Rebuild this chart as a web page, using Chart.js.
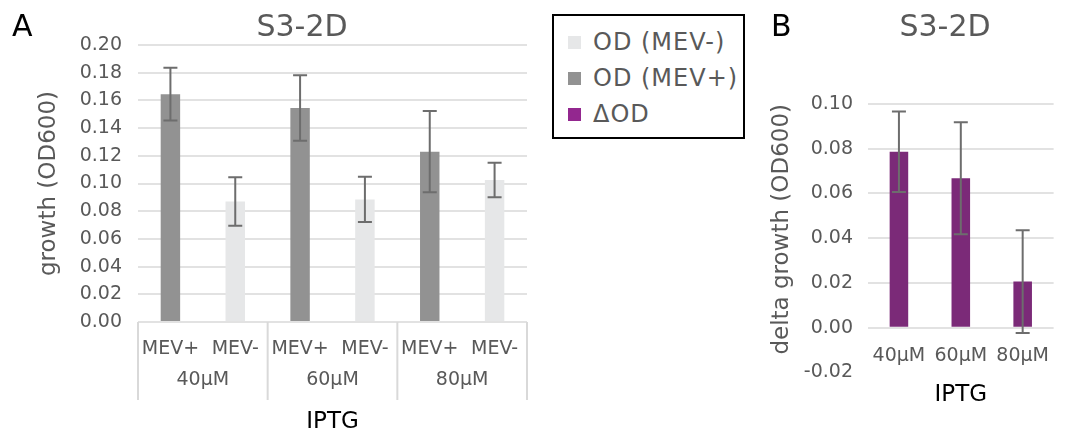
<!DOCTYPE html>
<html>
<head>
<meta charset="utf-8">
<script src="https://cdn.jsdelivr.net/npm/chart.js@4.4.0/dist/chart.umd.min.js"></script>
<style>
  body { margin: 0; background: #fff; font-family: "DejaVu Sans", sans-serif; }
  #wrap { position: relative; width: 1066px; height: 436px; overflow: hidden; }
  canvas, .txt, #legend { position: absolute; }
  .letter { font-size: 30px; line-height: 30px; color: #000; }
  .title { font-size: 30px; line-height: 30px; color: #595959; width: 200px; text-align: center; }
  #legend { left: 552px; top: 14px; width: 193px; height: 125px; box-sizing: border-box;
            border: 2px solid #000; padding-top: 8px; }
  #legend .row { height: 36px; display: flex; align-items: center; font-size: 24px; color: #595959; letter-spacing: 1px; }
  #legend .sw { width: 13px; height: 13px; margin-left: 14px; margin-right: 12px; }
</style>
</head>
<body>
<div id="wrap">
  <canvas id="chartA" width="545" height="436" style="left:0;top:0"></canvas>
  <canvas id="chartB" width="306" height="436" style="left:760px;top:0"></canvas>
  <div class="txt letter" style="left:12px;top:11px">A</div>
  <div class="txt title" style="left:202px;top:11px">S3-2D</div>
  <div class="txt letter" style="left:771px;top:11px">B</div>
  <div class="txt title" style="left:845px;top:11px">S3-2D</div>
  <div id="legend"></div>
</div>
<script>
// IPTG concentrations and strains
const groups = ['40μM', '60μM', '80μM'];
const strains = ['MEV+', 'MEV-'];

// growth (OD600) per concentration, with error
const mevPlus = [0.1645, 0.1545, 0.123];
const mevPlusErr = [0.019, 0.0237, 0.0294];
const mevMinus = [0.087, 0.0885, 0.1025];
const mevMinusErr = [0.0175, 0.0163, 0.0125];

// delta growth (MEV+ minus MEV-)
const deltaOD = [0.0786, 0.0668, 0.0206];
const deltaErr = [0.018, 0.025, 0.023];

const legendNames = ['OD (MEV-)', 'OD (MEV+)', 'ΔOD'];
const legendColors = ['#e6e7e8', '#929292', '#93278f'];

const grey = '#595959';
const gridColor = '#e2e2e2';
Chart.defaults.font.family = '"DejaVu Sans", sans-serif';
Chart.defaults.color = grey;

// put one series into its slot of every group, null elsewhere
const slot = (vals, k) => groups.flatMap((g, i) => strains.map((s, j) => (j === k ? vals[i] : null)));
const sampleLabels = groups.flatMap(() => strains);

const errorBars = {
  id: 'errorBars',
  afterDatasetsDraw(chart) {
    const ctx = chart.ctx;
    const y = chart.scales.y;
    ctx.save();
    ctx.strokeStyle = '#6d6d6d';
    ctx.lineWidth = 2;
    chart.data.datasets.forEach((ds, di) => {
      if (!ds.errors) return;
      chart.getDatasetMeta(di).data.forEach((bar, i) => {
        const v = ds.data[i], e = ds.errors[i];
        if (v == null || e == null) return;
        const top = y.getPixelForValue(v + e);
        const bot = y.getPixelForValue(v - e);
        ctx.beginPath();
        ctx.moveTo(bar.x, top); ctx.lineTo(bar.x, bot);
        ctx.moveTo(bar.x - 7, top); ctx.lineTo(bar.x + 7, top);
        ctx.moveTo(bar.x - 7, bot); ctx.lineTo(bar.x + 7, bot);
        ctx.stroke();
      });
    });
    ctx.restore();
  }
};

// boxes around the grouped category labels
const groupBoxes = {
  id: 'groupBoxes',
  afterDraw(chart) {
    const g = chart.scales.x2;
    const ctx = chart.ctx;
    ctx.save();
    ctx.strokeStyle = '#d9d9d9';
    ctx.lineWidth = 2;
    for (let i = 0; i <= groups.length; i++) {
      const px = g.getPixelForValue(i - 0.5);
      ctx.beginPath();
      ctx.moveTo(px, chart.chartArea.bottom);
      ctx.lineTo(px, g.top + 42);
      ctx.stroke();
    }
    ctx.restore();
  }
};

new Chart(document.getElementById('chartA'), {
  type: 'bar',
  data: {
    labels: sampleLabels,
    datasets: [
      { label: 'OD (MEV+)', data: slot(mevPlus, 0), errors: slot(mevPlusErr, 0), backgroundColor: '#929292' },
      { label: 'OD (MEV-)', data: slot(mevMinus, 1), errors: slot(mevMinusErr, 1), backgroundColor: '#e6e7e8' }
    ]
  },
  options: {
    responsive: false,
    animation: false,
    layout: { padding: { top: 45, right: 18, left: 0, bottom: 0 } },
    datasets: { bar: { grouped: false, categoryPercentage: 1, barPercentage: 0.3 } },
    plugins: { legend: { display: false }, tooltip: { enabled: false } },
    scales: {
      x: {
        weight: 0,
        grid: { display: false, drawTicks: false },
        border: { display: false },
        ticks: { padding: 16, maxRotation: 0, autoSkip: false, font: { size: 19 } },
        afterFit: s => { s.height = 36; }
      },
      x2: {
        type: 'category',
        labels: groups,
        position: 'bottom',
        weight: 1,
        grid: { display: false, drawTicks: false },
        border: { display: false },
        ticks: { padding: 11, maxRotation: 0, font: { size: 19 } },
        title: { display: true, text: 'IPTG', color: '#000', font: { size: 23 }, padding: { top: 0, bottom: 0 } },
        afterFit: s => { s.height = 78; }
      },
      y: {
        min: 0, max: 0.2,
        ticks: { stepSize: 0.02, padding: 16, font: { size: 19 }, callback: v => v.toFixed(2) },
        grid: { color: gridColor, lineWidth: 2, drawTicks: false },
        border: { display: false },
        title: { display: true, text: 'growth (OD600)', font: { size: 23 }, padding: { top: 35, bottom: 0 } },
        afterFit: s => { s.width = 138; }
      }
    }
  },
  plugins: [errorBars, groupBoxes]
});

new Chart(document.getElementById('chartB'), {
  type: 'bar',
  data: {
    labels: groups,
    datasets: [
      { label: 'ΔOD', data: deltaOD, errors: deltaErr, backgroundColor: '#7b2a78' }
    ]
  },
  options: {
    responsive: false,
    animation: false,
    layout: { padding: { top: 104, right: 0, left: 0, bottom: 63.6 } },
    datasets: { bar: { categoryPercentage: 1, barPercentage: 0.3 } },
    plugins: { legend: { display: false }, tooltip: { enabled: false } },
    scales: {
      x: {
        position: { y: 0 },
        grid: { display: false, drawTicks: false },
        border: { display: false },
        ticks: { padding: 17, maxRotation: 0, font: { size: 19 } },
        title: { display: true, text: 'IPTG', color: '#000', font: { size: 23 }, padding: { top: 0, bottom: 0 } },
        afterFit: s => { s.height = 81; }
      },
      y: {
        min: -0.02, max: 0.1,
        ticks: { stepSize: 0.02, padding: 15, font: { size: 19 }, callback: v => v.toFixed(2) },
        grid: {
          color: c => (c.tick && c.tick.value < 0 ? 'rgba(0,0,0,0)' : gridColor),
          lineWidth: 2, drawTicks: false
        },
        border: { display: false },
        title: { display: true, text: 'delta growth (OD600)', align: 'end', font: { size: 23 }, padding: { top: 8, bottom: 0 } },
        afterFit: s => { s.width = 108; }
      }
    }
  },
  plugins: [errorBars]
});

// shared legend box
const legend = document.getElementById('legend');
legendNames.forEach((name, i) => {
  const row = document.createElement('div');
  row.className = 'row';
  const sw = document.createElement('span');
  sw.className = 'sw';
  sw.style.background = legendColors[i];
  row.appendChild(sw);
  row.appendChild(document.createTextNode(name));
  legend.appendChild(row);
});
</script>
</body>
</html>
